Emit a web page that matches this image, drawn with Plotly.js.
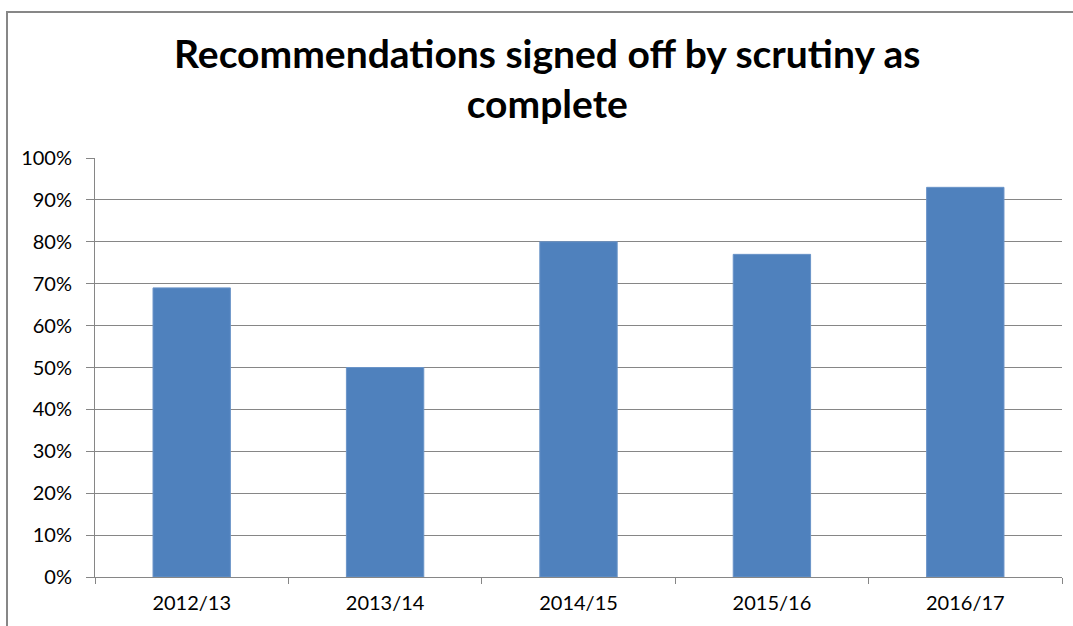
<!DOCTYPE html>
<html>
<head>
<meta charset="utf-8">
<script src="https://cdn.plot.ly/plotly-3.0.1.min.js"></script>
<style>
  body { margin: 0; background: #fff; }
  #chart { width: 1073px; height: 626px; }
</style>
</head>
<body>
<div id="chart"></div>
<script>
// values
let years = ["2012/13", "2013/14", "2014/15", "2015/16", "2016/17"];
let signedOff = [0.69, 0.50, 0.80, 0.77, 0.93];
let yTicks = [0, 0.1, 0.2, 0.3, 0.4, 0.5, 0.6, 0.7, 0.8, 0.9, 1.0];

function drawChart() {
  let data = [{
    x: years,
    y: signedOff,
    type: "bar",
    marker: {color: "#4f81bd", line: {color: "#6a94c8", width: 1}},
    hoverinfo: "x+y"
  }];
  let layout = {
    width: 1073,
    height: 626,
    margin: {l: 95, r: 11, t: 158, b: 49},
    paper_bgcolor: "#fff",
    plot_bgcolor: "#fff",
    font: {family: "Lato, 'Open Sans', sans-serif", color: "#000"},
    title: {
      text: "Recommendations signed off by scrutiny as<br>complete",
      font: {family: "Lato, 'Open Sans', sans-serif", size: 39, color: "#000", weight: "bold"},
      x: 0.51,
      xanchor: "center",
      y: 0.892,
      yanchor: "middle"
    },
    bargap: 0.6,
    showlegend: false,
    xaxis: {
      type: "category",
      showline: true,
      linecolor: "#868686",
      linewidth: 1,
      ticks: "outside",
      tickson: "boundaries",
      ticklen: 6,
      tickcolor: "#868686",
      tickfont: {size: 20, color: "#000"},
      ticklabelstandoff: 8,
      showgrid: false
    },
    yaxis: {
      range: [0, 1],
      tickvals: yTicks,
      tickformat: ".0%",
      showline: true,
      linecolor: "#868686",
      ticks: "outside",
      ticklen: 8,
      tickcolor: "#868686",
      tickfont: {size: 20, color: "#000"},
      ticklabelstandoff: 10,
      showgrid: true,
      gridcolor: "#868686",
      gridwidth: 1,
      zeroline: false
    },
    shapes: [{
      type: "rect",
      xref: "paper",
      yref: "paper",
      x0: -0.091,
      x1: 1.2,
      y0: -0.3,
      y1: 1.3484,
      line: {color: "#878787", width: 2},
      layer: "below"
    }]
  };
  Plotly.newPlot("chart", data, layout, {displayModeBar: false});
}
drawChart();
</script>
</body>
</html>
